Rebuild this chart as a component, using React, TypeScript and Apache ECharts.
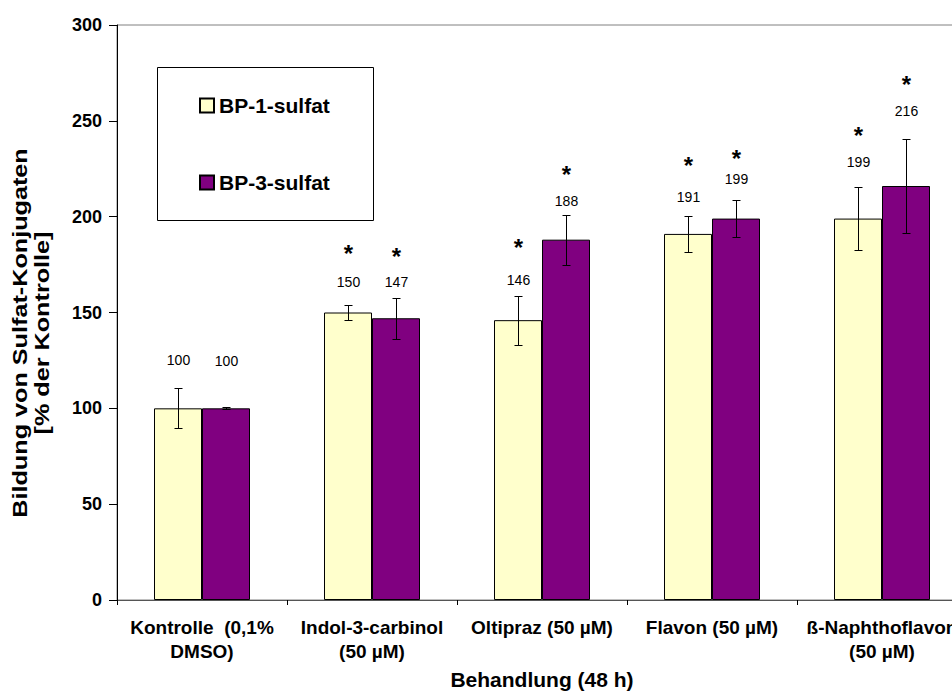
import React, { useEffect, useRef } from "react";
import * as echarts from "echarts";

// ---------- data ----------
const categories = [
  "Kontrolle  (0,1%\nDMSO)",
  "Indol-3-carbinol\n(50 µM)",
  "Oltipraz (50 µM)",
  "Flavon (50 µM)",
  "ß-Naphthoflavon\n(50 µM)",
];
const seriesNames = ["BP-1-sulfat", "BP-3-sulfat"];
const bp1Values = [100, 150, 146, 191, 199];
const bp1Errors = [10.4, 3.8, 12.8, 9.4, 16.5];
const bp1Significant = [false, true, true, true, true];
const bp3Values = [100, 147, 188, 199, 216];
const bp3Errors = [0.6, 10.6, 13.1, 9.5, 24.5];
const bp3Significant = [false, true, true, true, true];
const yMin = 0;
const yMax = 300;
const yInterval = 50;
const xAxisTitle = "Behandlung (48 h)";
const yAxisTitle = "Bildung von Sulfat-Konjugaten\n[% der Kontrolle]";

// ---------- layout / style ----------
const FONT = "Arial, 'Liberation Sans', sans-serif";
const BAR_W = 48;
const COLORS = ["#FFFFCC", "#800080"];
// hand-placed annotation offsets (px above bar top / above value label)
const labelLift = [
  [48, 31, 40, 37, 57],
  [47, 36, 39, 40, 75],
];
const starLift = [
  [0, 34, 38, 37, 32],
  [0, 31, 32, 26, 32],
];

const allValues = [bp1Values, bp3Values];
const allErrors = [bp1Errors, bp3Errors];
const allSig = [bp1Significant, bp3Significant];

function errorSeries(si: number) {
  return {
    type: "custom",
    name: seriesNames[si] + "-err",
    z: 10,
    silent: true,
    data: allValues[si].map((v, i) => [i, v, allErrors[si][i], allSig[si][i] ? 1 : 0]),
    renderItem: (params: any, api: any) => {
      const i = api.value(0);
      const v = api.value(1);
      const e = api.value(2);
      const s = api.value(3);
      const c = api.coord([i, v]);
      const x = Math.round(c[0] + (si === 0 ? -1 : 1) * (BAR_W / 2)) + 0.5;
      const yTop = Math.round(api.coord([i, v + e])[1]) + 0.5;
      const yBot = Math.round(api.coord([i, v - e])[1]) + 0.5;
      const labelY = c[1] - labelLift[si][i];
      const children: any[] = [
        { type: "line", shape: { x1: x, y1: yTop, x2: x, y2: yBot }, style: { stroke: "#000", lineWidth: 1 } },
        { type: "line", shape: { x1: x - 4, y1: yTop, x2: x + 4, y2: yTop }, style: { stroke: "#000", lineWidth: 1 } },
        { type: "line", shape: { x1: x - 4, y1: yBot, x2: x + 4, y2: yBot }, style: { stroke: "#000", lineWidth: 1 } },
        {
          type: "text",
          x: x,
          y: labelY,
          style: {
            text: String(v),
            align: "center",
            verticalAlign: "middle",
            fontSize: 14,
            fontFamily: FONT,
            fill: "#000",
          },
        },
      ];
      if (s) {
        const fs = 24;
        children.push({
          type: "text",
          x: x,
          y: labelY - starLift[si][i] + 0.23 * fs,
          style: {
            text: "*",
            align: "center",
            verticalAlign: "middle",
            fontSize: fs,
            fontWeight: "bold",
            fontFamily: FONT,
            fill: "#000",
          },
        });
      }
      return { type: "group", children };
    },
  };
}

export default function App() {
  const ref = useRef<HTMLDivElement>(null);
  useEffect(() => {
    if (!ref.current) return;
    const chart = echarts.init(ref.current, undefined, { renderer: "svg" });
    const option: any = {
      animation: false,
      backgroundColor: "#fff",
      grid: {
        left: 117,
        top: 25,
        right: 0,
        bottom: 98,
        show: true,
        borderColor: "#808080",
        borderWidth: 1,
      },
      legend: {
        data: seriesNames,
        orient: "vertical",
        left: 199,
        top: 95,
        padding: 0,
        itemWidth: 14,
        itemHeight: 14,
        itemGap: 56,
        icon: "rect",
        textStyle: { fontSize: 21, fontWeight: "bold", fontFamily: FONT, color: "#000" },
      },
      xAxis: {
        type: "category",
        data: categories,
        name: xAxisTitle,
        nameLocation: "middle",
        nameGap: 69,
        nameTextStyle: { fontSize: 21, fontWeight: "bold", fontFamily: FONT, color: "#000" },
        axisLine: { lineStyle: { color: "#555", width: 1 } },
        axisTick: { show: true, length: 5, lineStyle: { color: "#000" } },
        axisLabel: {
          interval: 0,
          margin: 15,
          fontSize: 19,
          fontWeight: "bold",
          fontFamily: FONT,
          color: "#000",
          lineHeight: 24,
        },
      },
      yAxis: {
        type: "value",
        min: yMin,
        max: yMax,
        interval: yInterval,
        axisLine: { show: true, lineStyle: { color: "#000", width: 1 } },
        axisTick: { show: true, length: 8, lineStyle: { color: "#000" } },
        splitLine: { show: false },
        axisLabel: {
          margin: 15,
          fontSize: 18,
          fontWeight: "bold",
          fontFamily: FONT,
          color: "#000",
        },
      },
      graphic: [
        {
          type: "rect",
          shape: { x: 157.5, y: 67.5, width: 216, height: 153 },
          style: { fill: "none", stroke: "#000", lineWidth: 1 },
          z: 1,
        },
        {
          type: "text",
          x: 31,
          y: 333,
          rotation: Math.PI / 2,
          scaleX: 1.2,
          style: {
            text: yAxisTitle,
            align: "center",
            verticalAlign: "middle",
            fontSize: 21,
            fontWeight: "bold",
            fontFamily: FONT,
            lineHeight: 22,
            fill: "#000",
          },
        },
      ],
      series: [
        {
          type: "bar",
          name: seriesNames[0],
          data: bp1Values,
          barWidth: BAR_W,
          barGap: "0%",
          itemStyle: { color: COLORS[0], borderColor: "#000", borderWidth: 1 },
        },
        {
          type: "bar",
          name: seriesNames[1],
          data: bp3Values,
          barWidth: BAR_W,
          barGap: "0%",
          itemStyle: { color: COLORS[1], borderColor: "#000", borderWidth: 1 },
        },
        errorSeries(0),
        errorSeries(1),
      ],
    };
    chart.setOption(option);
    return () => chart.dispose();
  }, []);
  return (
    <div style={{ position: "fixed", left: 0, top: 0, width: 952, height: 698, overflow: "hidden", background: "#fff" }}>
      <div ref={ref} style={{ width: 967, height: 698 }} />
    </div>
  );
}
